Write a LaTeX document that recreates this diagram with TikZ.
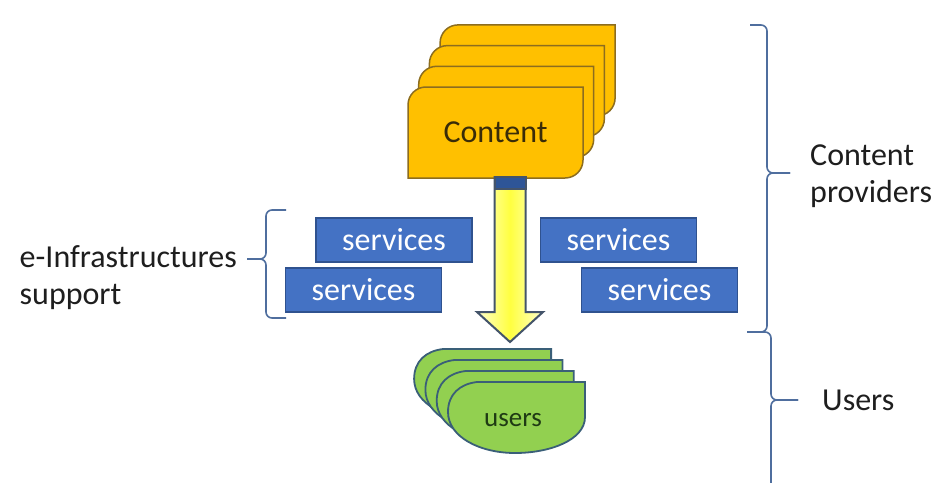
\documentclass[tikz,border=0pt]{standalone}
\usepackage{fontspec}
\setmainfont{Carlito}
\usetikzlibrary{positioning, calc}
\definecolor{contentGold}{HTML}{FFC000}
\definecolor{contentEdge}{HTML}{8C6D1F}
\definecolor{contentText}{HTML}{3A2C08}
\definecolor{serviceBlue}{HTML}{4472C4}
\definecolor{serviceEdge}{HTML}{2F528F}
\definecolor{userGreen}{HTML}{92D050}
\definecolor{userEdge}{HTML}{3A5F78}
\definecolor{userText}{HTML}{1F3A14}
\definecolor{arrowEdge}{HTML}{44546A}
\definecolor{arrowTop}{HTML}{2E5597}
\definecolor{braceBlue}{HTML}{4F6E9E}
\definecolor{labelGray}{HTML}{1E1E1E}

\begin{document}
\begin{tikzpicture}[x=1pt, y=-1pt,
    card/.style={draw=contentEdge, fill=contentGold, line width=1.5pt},
    usercard/.style={draw=userEdge, fill=userGreen, line width=1.8pt},
    service/.style={draw=serviceEdge, fill=serviceBlue, line width=1.2pt, text=white,
        minimum width=156pt, minimum height=44pt, inner sep=0pt, font=\fontsize{32}{37}\selectfont},
    sidetext/.style={text=labelGray, inner sep=0pt, align=left, font=\fontsize{32}{37}\selectfont},
    bracket/.style={draw=braceBlue, line width=1.6pt, rounded corners=6pt},
    flow/.style={draw=arrowEdge, line width=2pt, left color=yellow!20, right color=yellow!20, middle color=yellow!75}]
    \useasboundingbox[fill=white] (0,0) rectangle (936,482);

    % Content stack
    \foreach \i in {3,2,1,0}
        \draw[card, shift={(408+10.7*\i, 87-20.7*\i)}] (0,91) -- (0,18) .. controls (0,8) and (8,0) .. (18,0)
            -- (175,0) -- (175,73) .. controls (175,83) and (167,91) .. (157,91) -- cycle;
    \node[text=contentText, font=\fontsize{32}{37}\selectfont] (content) at (495.5,132.5) {Content};

    % services
    \node[service] (svcA) at (394,240) {services};
    \node[service] (svcB) at (363.5,290) {services};
    \node[service] (svcC) at (618.5,240) {services};
    \node[service] (svcD) at (659.5,290) {services};

    % users stack
    \foreach \i in {3,2,1,0}
        \draw[usercard, shift={(585-11.3*\i, 382-11*\i)}] (0,0) -- (0,35) .. controls (0,58) and (-35,71) .. (-70,71)
            .. controls (-105,71) and (-137,55) .. (-137,30) .. controls (-137,12) and (-125,2) .. (-108,0) -- cycle;
    \node[text=userText, font=\fontsize{27}{31}\selectfont] (users) at (513,420) {users};

    % flow from content down to users
    \coordinate (aTop) at (510,177);
    \coordinate (aTip) at (510,342);
    \draw[flow] (aTop) ++(-15.5,0) -- ++(31,0) -- ++(0,135) -- ++(17.5,0) -- (aTip) -- ++(-33,-30) -- ++(17.5,0) -- cycle;
    \draw[arrowEdge, fill=arrowTop, line width=2pt] (aTop) ++(-15.5,0) rectangle ++(31,12);

    % braces
    \coordinate (cpTop) at (750,25);
    \coordinate (cpBot) at (747,332);
    \coordinate (cpTip) at (790,173);
    \draw[bracket] (cpTop) -- ++(17,0) |- (cpTip);
    \draw[bracket] (cpBot) -- ++(20,0) |- (cpTip);

    \coordinate (usTop) at (747,332);
    \coordinate (usBot) at (771,490);
    \coordinate (usTip) at (798,400);
    \draw[bracket] (usTop) -- ++(24,0) |- (usTip);
    \draw[bracket] (usBot) |- (usTip);

    \coordinate (inTop) at (286,210);
    \coordinate (inBot) at (286,318);
    \coordinate (inTip) at (247,259);
    \draw[bracket] (inTop) -- ++(-20,0) |- (inTip);
    \draw[bracket] (inBot) -- ++(-20,0) |- (inTip);

    \node[sidetext, right=20pt of cpTip, yshift=-3pt] (cpText) {Content\\providers};
    \node[sidetext, right=24pt of usTip] (usText) {Users};
    \node[sidetext, left=10pt of inTip, yshift=-19pt] (inText) {e-Infrastructures\\support};
\end{tikzpicture}
\end{document}
